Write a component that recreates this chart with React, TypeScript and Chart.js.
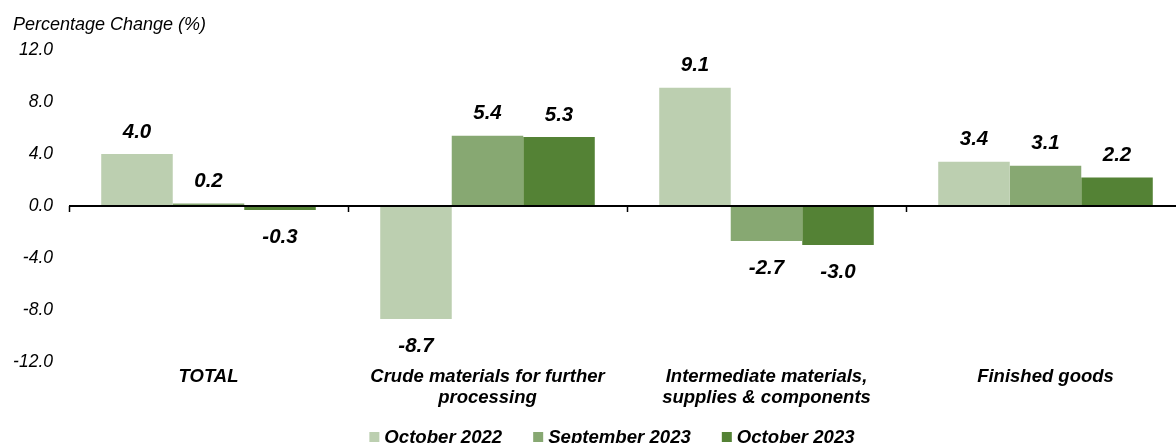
import React, { useEffect, useRef } from "react";
import { Chart, registerables } from "chart.js";

Chart.register(...registerables);

const categories: (string | string[])[] = [
  "TOTAL",
  ["Crude materials for further", "processing"],
  ["Intermediate materials,", "supplies & components"],
  "Finished goods",
];
const seriesNames = ["October 2022", "September 2023", "October 2023"];
const oct2022 = [4.0, -8.7, 9.1, 3.4];
const sep2023 = [0.2, 5.4, -2.7, 3.1];
const oct2023 = [-0.3, 5.3, -3.0, 2.2];
const colors = ["#BCCFB0", "#87A872", "#548235"];
const yTicks = [-12, -8, -4, 0, 4, 8, 12];

const FONT = "'Liberation Sans', Arial, sans-serif";
const CANVAS_W = 1185;
const CANVAS_H = 443;

const zeroLinePlugin = {
  id: "zeroLine",
  afterDatasetsDraw(chart: any) {
    const { ctx, chartArea, scales } = chart;
    const x = scales.x;
    const y = scales.y;
    const y0 = y.getPixelForValue(0);
    ctx.save();
    ctx.strokeStyle = "#000";
    ctx.lineWidth = 2;
    ctx.beginPath();
    ctx.moveTo(chartArea.left, y0);
    ctx.lineTo(chartArea.right, y0);
    ctx.stroke();
    ctx.lineWidth = 1.5;
    const n = categories.length;
    for (let i = 0; i < n; i++) {
      let xp: number;
      if (i === 0) xp = chartArea.left;
      else xp = (x.getPixelForValue(i - 1) + x.getPixelForValue(i)) / 2;
      ctx.beginPath();
      ctx.moveTo(Math.round(xp) + 0.5, y0);
      ctx.lineTo(Math.round(xp) + 0.5, y0 + 6);
      ctx.stroke();
    }
    ctx.restore();
  },
};

const dataLabelPlugin = {
  id: "dataLabels",
  afterDatasetsDraw(chart: any) {
    const { ctx } = chart;
    ctx.save();
    ctx.font = `italic bold 20.5px ${FONT}`;
    ctx.fillStyle = "#000";
    ctx.textAlign = "center";
    ctx.textBaseline = "middle";
    chart.data.datasets.forEach((ds: any, di: number) => {
      const meta = chart.getDatasetMeta(di);
      meta.data.forEach((bar: any, i: number) => {
        const v = ds.data[i] as number;
        const yPos = v >= 0 ? bar.y - 22 : bar.y + 27;
        ctx.fillText(v.toFixed(1), bar.x, yPos);
      });
    });
    ctx.restore();
  },
};

const customLegendPlugin = {
  id: "customLegend",
  afterDraw(chart: any) {
    const { ctx } = chart;
    ctx.save();
    ctx.font = `italic bold 18.6px ${FONT}`;
    ctx.textBaseline = "middle";
    ctx.textAlign = "left";
    const box = 10;
    const boxGap = 5;
    const itemGap = 31;
    const widths = seriesNames.map((s) => ctx.measureText(s).width);
    const total =
      widths.reduce((a, w) => a + box + boxGap + w, 0) + itemGap * (seriesNames.length - 1);
    let x = 612 - total / 2;
    const yc = 437;
    seriesNames.forEach((s, i) => {
      ctx.fillStyle = colors[i];
      ctx.fillRect(x, yc - box / 2, box, box);
      ctx.fillStyle = "#000";
      ctx.fillText(s, x + box + boxGap, yc + 1);
      x += box + boxGap + widths[i] + itemGap;
    });
    ctx.restore();
  },
};

export default function App() {
  const ref = useRef<HTMLCanvasElement | null>(null);
  useEffect(() => {
    if (!ref.current) return;
    const chart = new Chart(ref.current, {
      type: "bar",
      data: {
        labels: categories,
        datasets: [oct2022, sep2023, oct2023].map((d, i) => ({
          label: seriesNames[i],
          data: d,
          backgroundColor: colors[i],
          borderWidth: 0,
          barPercentage: 1.0,
          categoryPercentage: 0.769,
        })),
      },
      options: {
        animation: false,
        responsive: false,
        maintainAspectRatio: false,
        layout: { padding: { left: 13, right: 0, top: 0, bottom: 0 } },
        plugins: {
          title: {
            display: true,
            text: "Percentage Change (%)",
            align: "start",
            color: "#000",
            font: { family: FONT, size: 18, style: "italic", weight: "normal", lineHeight: 1.2 },
            padding: { top: 14, bottom: 14.4 },
          },
          legend: { display: false },
          tooltip: { enabled: false },
        },
        scales: {
          x: {
            grid: { display: false, drawTicks: false },
            border: { display: false },
            afterFit(scale: any) {
              scale.height = 81;
            },
            ticks: {
              color: "#000",
              padding: 4,
              maxRotation: 0,
              autoSkip: false,
              font: { family: FONT, size: 18.5, style: "italic", weight: "bold", lineHeight: 1.14 },
            },
          },
          y: {
            min: -12,
            max: 12,
            grid: { display: false, drawTicks: false },
            border: { display: false },
            afterFit(scale: any) {
              scale.width = 56;
            },
            afterBuildTicks(scale: any) {
              scale.ticks = yTicks.map((v) => ({ value: v }));
            },
            ticks: {
              color: "#000",
              padding: 16,
              font: { family: FONT, size: 17.5, style: "italic" },
              callback: (v: any) => Number(v).toFixed(1),
            },
          },
        },
      },
      plugins: [zeroLinePlugin, dataLabelPlugin, customLegendPlugin],
    });
    return () => chart.destroy();
  }, []);
  return (
    <div
      style={{
        position: "absolute",
        left: 0,
        top: 0,
        width: 1176,
        height: CANVAS_H,
        overflow: "hidden",
      }}
    >
      <canvas
        ref={ref}
        width={CANVAS_W}
        height={CANVAS_H}
        style={{ width: CANVAS_W, height: CANVAS_H, display: "block" }}
      />
    </div>
  );
}
